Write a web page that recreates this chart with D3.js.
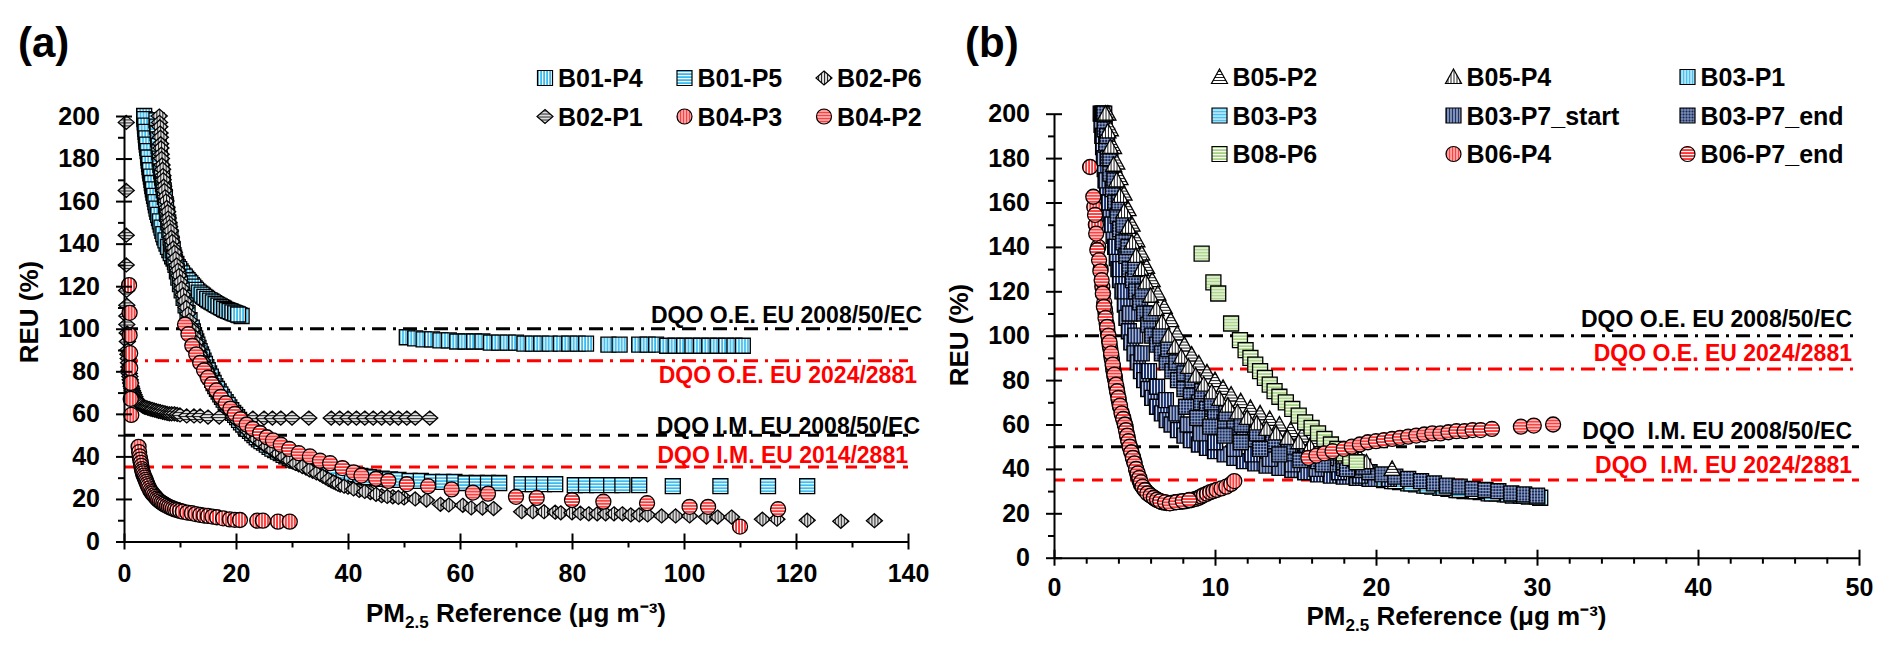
<!DOCTYPE html>
<html>
<head>
<meta charset="utf-8">
<script src="https://cdn.jsdelivr.net/npm/d3@7"></script>
<style>
body { margin: 0; background: #fff; }
text { font-family: Arial, "Liberation Sans", sans-serif; font-weight: bold; }
</style>
</head>
<body>
<svg id="chart" width="1892" height="649"></svg>
<script>
// ---- panel (a) data: [PM2.5 reference, REU %] ----
var a_B01_P4 = [[3.6,200],[3.7,197],[3.8,194],[3.9,191],[4.0,188],[4.15,185],[4.3,182],[4.4,179],[4.55,176],[4.7,173],[4.9,170],[5.05,167],[5.25,164],[5.5,161],[5.7,158],[5.95,155],[6.25,152],[6.55,149],[6.85,146],[7.2,143],[7.6,140],[8.1,137],[8.6,134],[9.1,131.5],[9.6,129],[10.1,127],[10.6,125],[11.1,123.5],[11.6,122],[12.1,120.5],[12.6,119],[13.1,117.5],[13.6,116.5],[14.1,115.5],[14.6,114.5],[15.1,113.5],[15.6,112.8],[16.1,112],[16.6,111.2],[17.1,110.5],[17.6,109.8],[18.1,109],[18.6,108.5],[19.1,108],[19.6,107.4],[20.1,107],[20.6,106.4],[21.0,106],
  [3.65,198.5],[3.75,195.5],[3.85,192.5],[3.95,189.5],[4.07,186.5],[4.22,183.5],[4.35,180.5],[4.48,177.5],[4.62,174.5],[4.8,171.5],[4.97,168.5],[5.15,165.5],[5.37,162.5],[5.6,159.5],[5.82,156.5],[6.1,153.5],[6.4,150.5],[6.7,147.5],[7.02,144.5],[7.4,141.5],[7.85,138.5],[8.35,135.5],[8.85,133],[9.35,130.5],[9.85,128],[10.35,126],[10.85,124.5],[11.35,122.8],[11.85,121.3],[12.35,119.8],[12.85,118.3],[13.35,117],[13.85,116],[14.35,115],[14.85,114],[15.35,113.2],[15.85,112.4],[16.35,111.6],[16.85,110.9],[17.35,110.2],[17.85,109.4],[18.35,108.8],[18.85,108.3],[19.35,107.7],[19.85,107.2],[20.35,106.7],
  [50.5,96],[52,95.5],[53.5,95],[55,95],[56.5,94.5],[58,94.5],[59.5,94],[61,94],[62.5,94],[64,94],[65.5,93.5],[67,93.5],[68.5,93.5],[70,93.5],[71.5,93],[73,93],[74.5,93],[76,93],[78,93],[79.5,93],[81,93],[82.5,93],[86.5,92.5],[88.5,92.5],[92,92.5],[93.5,92.5],[95,92.5],[97,92],[98.5,92],[100,92],[101.5,92],[103,92],[104.5,92],[106,92],[107.5,92],[109,92],[110.5,92]];
var a_B01_P5 = [[5.8,198],[5.9,195],[6.0,192],[6.1,189],[6.2,186],[6.3,183],[6.4,180],[6.5,177],[6.65,174],[6.8,171],[6.95,168],[7.1,165],[7.3,162],[7.5,158],[7.7,154],[7.9,150],[8.1,146.5],[8.3,143],[8.5,140],[8.7,137],[8.95,133.5],[9.2,130],[9.45,127],[9.7,124],[10.0,121],[10.3,118],[10.65,114.5],[11.0,111],[11.35,107.5],[11.7,104],[12.1,100.5],[12.5,97],[12.9,94],[13.3,91],[13.75,88],[14.2,85],[14.7,82],[15.2,79],[15.75,76],[16.3,73],[16.9,70.5],[17.5,68],[18.15,65.5],[18.8,63],[19.5,60.5],[20.2,58.5],[20.9,56],[21.7,54],[22.5,52],[23.3,50],[24.1,48],[25,46.5],[26,44.5],[27,43],[28,41.5],[29,40],[30.2,38.5],[31.5,37.5],[32.7,36.5],[34,35.5],[35.5,34.5],[37,33.5],[38.5,32.7],[40,32],[41.5,31.2],[43,30.5],[44.5,30],[46,29.5],[47.5,29.2],[49,29],[51,28.5],[53,28.5],[55,28],[57,28],[59,28],[61,27.5],[63,27.5],[65,27.5],[67,27.5],[71,27],[73,27],[75,27],[77,27],[80.5,26.5],[82.5,26.5],[84.5,26.5],[87,26.5],[89,26.5],[92,26.5],[98,26],[106.5,26],[115,26],[122,26],
  [12.3,98.7],[12.7,95.5],[13.1,92.5],[13.5,89.5],[13.95,86.5],[14.45,83.5],[14.95,80.5],[15.5,77.5],[16,74.5],[16.6,71.7],[17.2,69.2],[17.8,66.7],[18.5,64.2],[19.15,61.7],[19.85,59.5],[20.55,57.2],[21.3,55],[22.1,53],[22.9,51],[23.7,49],[24.55,47.2],[25.5,45.5],[26.5,43.7],[27.5,42.2],[28.5,40.7],[29.6,39.2],[30.8,38],[32.1,37],[33.3,36],[34.7,35],[36.2,34],[37.7,33.1],[39.2,32.3],[40.7,31.6],[42.2,30.8],[43.7,30.2]];
var a_B02_P6 = [[6.3,200],[6.35,197],[6.4,195],[6.45,192],[6.5,190],[6.55,187],[6.6,185],[6.65,182],[6.7,180],[6.8,177],[6.9,175],[6.95,172],[7.0,170],[7.1,167],[7.2,165],[7.35,162],[7.5,160],[7.65,157],[7.8,155],[7.9,152],[8.0,150],[8.15,148],[8.3,146],[8.45,143],[8.6,141],[8.8,138],[9.0,136],[9.2,133],[9.4,130],[9.6,127.5],[9.8,125],[10.05,122],[10.3,119],[10.55,116],[10.8,113],[11.1,110],[11.4,107],[11.7,104],[12,101],[12.35,98],[12.7,95],[13.05,92],[13.4,89],[13.8,86.5],[14.2,84],[14.6,81.5],[15,79],[15.5,76.5],[16,74],[16.5,71.5],[17,69],[17.6,66.5],[18.2,64],[18.8,62],[19.5,60],[20.2,57.5],[21,55],[21.7,53],[22.5,51],[23.2,49],[24,47.5],[25,45.5],[26,44],[27,42],[28,40.5],[29,39],[30,37.5],[31.2,36],[32.5,34.5],[33.7,33],[35,31.5],[36,30],[37,28.5],[37.8,27.5],[38.6,26.5],[40,25.5],[42,24],[44,23],[46,21.5],[48,21],[50,20.5],[52,20],[54,19.5],[56.5,17.5],[58,17.2],[60.5,17],[62,15.8],[64,15.7],[66,15.5],[71,14],[73,14],[75,14],[77,13.8],[78,13.5],[80,13.5],[81.5,13.3],[83,13],[84.5,13],[86,13],[87.5,13],[89,13],[90.5,12.5],[92,12.5],[93.5,12.5],[96,12],[98.5,12],[101,12],[104,11.5],[106,11.5],[108.5,11.5],[114,10.5],[116.6,10.5],[122,10],[128,9.5],[134,9.8],
  [12.2,99.5],[12.55,96.5],[12.9,93.5],[13.25,90.5],[13.6,87.7],[14,85.2],[14.4,82.7],[14.8,80.2],[15.25,77.7],[15.75,75.2],[16.25,72.7],[16.75,70.2],[17.3,67.7],[17.9,65.2],[18.5,63],[19.15,61],[19.85,58.7],[20.6,56.2],[21.35,54],[22.1,52],[22.85,50],[23.6,48.2],[24.5,46.5],[25.5,44.7],[26.5,43],[27.5,41.2],[28.5,39.7],[29.5,38.2],[30.6,36.7],[31.85,35.2],[33.1,33.7],[34.35,32.2],[35.5,30.7],[36.5,29.2],[37.4,28],[38.2,27],[39.3,26],[41,24.7],[43,23.5],[45,22.2],[47,21.2],[49,20.7]];
var a_B02_P1 = [[0.4,197],[0.4,165],[0.4,144],[0.4,130],[0.45,118],[0.5,111],[0.5,106],[0.5,102],[0.55,98],[0.6,94],[0.65,90],[0.7,88],[0.75,86],[0.8,84],[0.85,82],[0.9,80.5],[0.95,79],[1.05,77.5],[1.1,76],[1.2,74.5],[1.3,73],[1.4,72],[1.5,71],[1.65,70],[1.8,69],[1.95,68],[2.1,67],[2.3,66.2],[2.5,65.5],[2.7,65],[2.9,64.5],[3.15,64],[3.4,63.5],[3.65,63.2],[3.9,63],[4.2,62.7],[4.5,62.5],[4.8,62.2],[5.1,62],[5.45,61.7],[5.8,61.5],[6.15,61.2],[6.5,61],[6.9,60.7],[7.3,60.5],[7.7,60.2],[8.1,60],[8.5,60],[9,60],[9.5,59.7],[10,59.5],[11.2,59],[12.5,59],[13.6,59],[15,58.5],[17,58.5],[19.5,58.5],[21,58],[23,58],[25,58],[26.5,58],[28,58],[30,58],[33,58],[37,58],[38.5,58],[40,58],[41.5,58],[43,58],[44.5,58],[46,58],[47.5,58],[49,58],[50.5,58],[52,58],[54.6,58]];
var a_B04_P3 = [[0.9,120.5],[1.0,107.5],[1.0,97],[1.1,88.5],[1.1,81.5],[1.2,74.5],[1.2,67],[1.3,59.5],[2.6,44.5],
  [2.7,42],[2.8,40],[2.9,38.5],[3.0,37],[3.1,35.5],[3.2,34],[3.3,33],[3.4,32],[3.55,31],[3.7,30],[3.85,29],[4.0,28],[4.15,27],[4.3,26],[4.5,25],[4.7,24],[4.9,23.2],[5.1,22.5],[5.35,21.7],[5.6,21],[5.85,20.2],[6.1,19.5],[6.4,18.9],[6.7,18.3],[7.0,17.8],[7.3,17.3],[7.65,16.8],[8.0,16.3],[8.35,15.9],[8.7,15.5],[9.1,15.1],[9.5,14.8],[10,14.4],[10.5,14],[11.3,13.6],[12.1,13.3],[12.8,12.9],[13.6,12.5],[14.3,12.2],[15,12],[15.8,11.7],[16.6,11.4],[17.7,10.9],[18.9,10.4],[19.8,10.2],[20.7,10.1],[23.8,9.8],[24.8,9.8],[27.5,9.3],[29.6,9.3],[110,7]];
var a_B04_P2 = [[10.9,102],[11.5,97.5],[12.2,92],[12.9,88],[13.6,84],[14.3,80.5],[15,77],[15.7,74],[16.5,71],[17.3,68],[18.2,65],[19,62.5],[19.8,60],[20.8,57.5],[21.9,55],[23,53],[24.3,51],[25.5,49],[26.6,47.5],[28,45.5],[29.5,43.5],[31.2,41.5],[33.2,40],[35,38],[36.8,36.8],[39,34.5],[41,32.5],[42.4,31],[45,29.5],[47.2,28.5],[50.5,27],[54.3,26],[58.5,24.5],[62.3,23],[65,22.5],[70,21],[73.7,20.5],[80,19.5],[85.6,18.7],[93.4,18],[101,16.3],[104.3,16.3],[116.8,15.2]];

// ---- panel (b) data ----
var b_B05_P2 = [[3.35,200],[3.5,193],[3.7,185],[3.9,178],[4.1,171],[4.35,164],[4.6,157],[4.85,150],[5.15,143],[5.45,137],[5.75,131],[6.1,125],[6.45,119],[6.85,113],[7.25,107],[7.65,101],[8.1,96],[8.55,91.5],[9.0,87.5],[9.5,83.5],[10.0,80],[10.5,76.5],[11.0,73.5],[11.6,70.5],[12.2,67.5],[12.8,65],[13.4,62.5],[14.0,60],[14.7,57.5],[15.4,55],[16.1,53],[16.8,51],[17.5,49],[18.2,47],[19.0,45],[21.0,40]];
var b_B05_P4 = [[3.2,200],[3.35,192],[3.5,185],[3.7,177],[3.9,170],[4.1,163],[4.35,156],[4.6,149],[4.85,142],[5.1,136],[5.4,130],[5.7,124],[6.0,118],[6.35,112],[6.7,106],[7.1,100],[7.5,95],[7.9,90.5],[8.35,86],[8.8,82],[9.3,78],[9.8,74.5],[10.3,71.5],[10.8,68.5],[11.4,65.5],[12.0,63],[12.6,60.5],[13.2,58],[13.8,56],[14.5,54],[15.2,52],[15.9,50],[16.6,48.5],[17.3,47],[18.0,45.5],[18.7,44],[19.4,43]];
var b_B03_P1 = [[19.5,36],[20,35.5],[20.5,35],[21,34.5],[21.5,34],[22,33.5],[22.5,33],[23,32.5],[23.5,32],[24,31.5],[24.5,31],[25,30.5],[25.5,30],[26,30],[26.5,29.5],[27,29],[27.5,29],[28,28.5],[28.5,28],[29,28],[29.5,27.5],[30.2,27]];
var b_B03_P3 = [[20.2,35.5],[21.2,34.5],[22.2,33.5],[23.2,32.5],[24.2,31.5],[25.2,30.5],[26.2,30],[27.2,29],[28.2,28.5],[29.2,28],[30,27.5]];
var b_B03_P7_start = [[2.9,200],[2.95,195],[3.0,190],[3.05,185],[3.1,180],[3.15,175],[3.2,170],[3.3,165],[3.4,160],[3.5,155],[3.6,150],[3.7,145],[3.8,140],[3.9,135],[4.0,130],[4.1,125],[4.25,120],[4.4,114],[4.5,108],[4.65,102],[4.8,97],[5.0,92],[5.2,88],[5.4,84],[5.6,80],[5.85,76],[6.1,72],[6.4,68],[6.7,65],[7.0,62],[7.3,60],[7.7,57.5],[8.1,55],[8.5,53],[9.0,51],[9.5,49.5],[10.0,48],[10.6,46.5],[11.2,45],[11.8,43.5],[12.5,42.5],[13.2,41.5],[14.0,40.5],[14.8,39.5],[15.6,38.5],[16.4,37.5],[17.2,37],[18.0,36.5],[18.8,36],[19.6,35.5],
  [2.97,200],[3.05,190],[3.12,180],[3.25,170],[3.42,160],[3.6,150],[3.85,140],[4.1,130],[4.4,120],[4.7,110],[5.05,100],[5.45,92],[5.9,84],[6.4,77],[6.95,71],[7.6,65],[8.3,60],[9.1,56],[10,52],[11.2,49],[12.3,46.5],[13.4,44.5],[14.8,42],[16.3,40],[17.7,38.5],[19,37],[20.8,35.5]];
var b_B03_P7_end = [[3.05,200],[3.15,193],[3.25,186],[3.35,180],[3.5,173],[3.65,166],[3.8,160],[3.95,154],[4.1,148],[4.3,142],[4.5,136],[4.7,130],[4.9,125],[5.1,120],[5.35,115],[5.6,110],[5.85,105],[6.1,100],[6.4,96],[6.7,92],[7.0,88],[7.35,84],[7.7,80],[8.1,76],[8.5,73],[9.0,70],[9.5,67],[10.0,64],[10.6,61],[11.2,58.5],[11.8,56],[12.5,53.5],[13.2,51],[14.0,49],[14.8,47],[15.6,45],[16.4,43.5],[17.2,42],[18.0,40.5],[18.8,39.5],[19.6,38.5],[20.4,37.5],[21.2,36.5],[22.0,35.5],[22.8,34.5],[23.6,33.5],[24.4,32.5],[25.2,32],[26.0,31],[26.8,30.5],[27.6,30],[28.4,29],[29.2,28.5],[30.0,28],
  [3.12,200],[3.3,190],[3.5,180],[3.75,170],[4.05,160],[4.32,150],[4.62,140],[5.05,130],[5.5,120],[6.0,110],[6.6,100],[7.1,94],[7.6,88],[8.1,83],[8.6,80],[9.2,75],[9.8,70],[10.7,65],[11.65,60],[12.6,56],[13.6,52.5],[14.55,50],[15.7,47.5],[16.9,45],[18,43],[19.2,41],
  [8.2,68],[8.9,63],[9.7,59],[10.6,55],[11.6,52],[12.8,49],[14,46.5],[15.3,44],[16.7,42],[18.2,40]];
var b_B08_P6 = [[9.17,137],[9.9,124],[10.2,119],[11.0,105.5],[11.55,98],[11.9,93.5],[12.2,90],[12.5,87],[12.8,84],[13.1,81],[13.4,78],[13.7,75],[14.0,72.5],[14.4,70],[14.8,67],[15.2,64],[15.6,61],[16.0,58.5],[16.4,56],[16.8,53.5],[17.2,51],[17.6,49],[18.0,47],[18.4,45],[18.8,43]];
var b_B06_P4 = [[2.24,176],[2.5,158],[2.6,150],[2.75,140],[2.9,130],[3.0,122],[3.05,119],[3.12,115],[3.2,110],[3.27,105.5],[3.35,101],[3.42,97.5],[3.5,94],[3.55,91.5],[3.6,89],[3.65,86.5],[3.7,84],[3.75,82],[3.8,80],[3.87,77],[3.95,74],[4.02,71],[4.1,68],[4.2,65.5],[4.3,63],[4.37,61],[4.45,59],[4.52,56],[4.6,53],[4.7,50.5],[4.8,48],[4.9,45.5],[5.0,43],[5.1,40],[5.2,37],[5.3,35],[5.4,33],[5.55,31.5],[5.7,30],[5.85,29],[6.0,28],[6.2,27],[6.4,26],[6.55,25.5],[6.7,25],[6.85,24.8],[7.0,24.6],[7.2,24.6],[7.4,24.8],[7.6,25],[7.8,25.2],[8.0,25.3],[8.2,25.5],[8.4,25.8],[8.55,26],[8.8,26.5],[9.0,27],[9.15,27.6],[9.3,28.2],[9.5,28.8],[9.7,29.5],[9.9,30],[10.1,30.5],[10.4,31.2],[10.7,32],[11.0,33.2],[11.2,34.5],
  [3.16,112],[3.31,103],[3.46,95.5],[3.58,90],[3.68,85],[3.78,81],[3.91,75.5],[4.06,69.5],[4.25,64],[4.41,60],[4.56,54.5],[4.75,49],[4.95,44],[5.15,38.5],[5.35,34],[5.62,30.7],[5.92,28.5],[6.3,26.5]];
var b_B06_P7_end = [[2.44,162.6],[2.55,154.4],[2.62,146],[2.69,138.6],[2.8,134],[2.88,129],[2.96,125],[3.03,119],[3.1,113],[3.2,108],[3.3,104],[3.38,100],[3.45,97],[3.55,92],[3.65,87],[3.75,82.5],[3.85,78],[3.92,75],[4.0,72],[4.1,68.5],[4.2,65],[4.3,62.5],[4.4,60],[4.47,57.5],[4.55,55],[4.62,52.5],[4.7,50],[4.8,47.5],[4.9,45],[5.0,42.5],[5.1,40],[5.2,38],[5.3,36],[5.4,34],[5.5,32],[5.65,30.5],[5.8,29],[6.0,28],[6.2,27],[6.4,26.2],[6.6,25.5],[6.9,25],[7.2,24.5],[7.6,25],[8.0,25.5],[8.4,26],
  [15.8,45],[16.3,46],[16.8,47],[17.3,48],[18,49],[18.5,50],[19,51],[19.5,52],[20,52.5],[20.5,53],[21,53.5],[21.5,54],[22,54.5],[22.5,55],[23,55.5],[23.5,56],[24,56],[24.5,56.5],[25,57],[25.5,57],[26,57.5],[26.5,57.5],[27.2,58],[29,59],[29.8,59.5],[31,60]];

// ---- ticks and limits ----
var a_xTicks = [0, 20, 40, 60, 80, 100, 120, 140];
var b_xTicks = [0, 10, 20, 30, 40, 50];
var yTicks = [0, 20, 40, 60, 80, 100, 120, 140, 160, 180, 200];
var dqoValues = [100, 85, 50, 35];
var a_dqoLabels = ['DQO O.E. EU 2008/50/EC', 'DQO O.E. EU 2024/2881', 'DQO I.M. EU 2008/50/EC', 'DQO I.M. EU 2014/2881'];
var b_dqoLabels = ['DQO O.E. EU 2008/50/EC', 'DQO O.E. EU 2024/2881', 'DQO  I.M. EU 2008/50/EC', 'DQO  I.M. EU 2024/2881'];

var svg = d3.select('#chart');
var defs = svg.append('defs');

function stripes(id, bg, fg, dir, w) {
  var p = defs.append('pattern').attr('id', id)
    .attr('patternUnits', 'userSpaceOnUse').attr('width', 3).attr('height', 3);
  p.append('rect').attr('width', 3).attr('height', 3).attr('fill', bg);
  if (dir == 'v' || dir == 'g') p.append('rect').attr('width', w).attr('height', 3).attr('fill', fg);
  if (dir == 'h' || dir == 'g') p.append('rect').attr('width', 3).attr('height', w).attr('fill', fg);
}
stripes('blueV', '#38BBEE', '#fff', 'v', 1.2);
stripes('blueH', '#38BBEE', '#fff', 'h', 1.2);
stripes('redV', '#FF3535', '#fff', 'v', 1.1);
stripes('redH', '#FF3535', '#fff', 'h', 1.1);
stripes('grayV', '#e4e4e4', '#2a2a2a', 'v', 1.1);
stripes('grayH', '#e4e4e4', '#2a2a2a', 'h', 1.1);
stripes('triV', '#ffffff', '#222', 'v', 1);
stripes('triH', '#ffffff', '#222', 'h', 1);
stripes('navyV', '#1B3370', '#fff', 'v', 0.9);
stripes('navyG', '#152B5E', '#c9d4ee', 'g', 0.6);
stripes('greenH', '#A5D27E', '#fff', 'h', 1.2);

var shapes = {
  square: 'M-7.5,-7.5H7.5V7.5H-7.5Z',
  circle: 'M-7.5,0A7.5,7.5 0 1,0 7.5,0A7.5,7.5 0 1,0 -7.5,0Z',
  diamond: 'M0,-7L8,0L0,7L-8,0Z',
  triangle: 'M0,-8L8,6.5L-8,6.5Z'
};

var aSeries = [
  {name: 'B01-P4', data: a_B01_P4, shape: 'square', fill: 'blueV'},
  {name: 'B01-P5', data: a_B01_P5, shape: 'square', fill: 'blueH'},
  {name: 'B02-P6', data: a_B02_P6, shape: 'diamond', fill: 'grayV'},
  {name: 'B02-P1', data: a_B02_P1, shape: 'diamond', fill: 'grayH'},
  {name: 'B04-P3', data: a_B04_P3, shape: 'circle', fill: 'redV'},
  {name: 'B04-P2', data: a_B04_P2, shape: 'circle', fill: 'redH'}
];
var bSeries = [
  {name: 'B05-P2', data: b_B05_P2, shape: 'triangle', fill: 'triH', z: 4},
  {name: 'B05-P4', data: b_B05_P4, shape: 'triangle', fill: 'triV', z: 5},
  {name: 'B03-P1', data: b_B03_P1, shape: 'square', fill: 'blueV', z: 0},
  {name: 'B03-P3', data: b_B03_P3, shape: 'square', fill: 'blueH', z: 1},
  {name: 'B03-P7_start', data: b_B03_P7_start, shape: 'square', fill: 'navyV', z: 2},
  {name: 'B03-P7_end', data: b_B03_P7_end, shape: 'square', fill: 'navyG', z: 3},
  {name: 'B08-P6', data: b_B08_P6, shape: 'square', fill: 'greenH', z: 6},
  {name: 'B06-P4', data: b_B06_P4, shape: 'circle', fill: 'redV', z: 7},
  {name: 'B06-P7_end', data: b_B06_P7_end, shape: 'circle', fill: 'redH', z: 8}
];

function drawPanel(cfg) {
  var x = cfg.x, y = cfg.y;
  var g = svg.append('g');

  // DQO reference lines
  var styles = [
    {color: '#000', dash: '14,7,3,7'},
    {color: '#FF0000', dash: '14,7,3,7'},
    {color: '#000', dash: '11,8'},
    {color: '#FF0000', dash: '11,8'}
  ];
  dqoValues.forEach(function(v, i) {
    g.append('line')
      .attr('x1', x(0)).attr('x2', x(x.domain()[1]))
      .attr('y1', y(v)).attr('y2', y(v))
      .attr('stroke', styles[i].color).attr('stroke-width', 3)
      .attr('stroke-dasharray', styles[i].dash);
  });

  // markers
  var order = cfg.series.slice();
  if (order[0].z !== undefined) order.sort(function(p, q) { return p.z - q.z; });
  order.forEach(function(s) {
    g.append('g').selectAll('path').data(s.data).enter().append('path')
      .attr('transform', function(d) { return 'translate(' + x(d[0]) + ',' + y(d[1]) + ')'; })
      .attr('d', shapes[s.shape])
      .attr('fill', 'url(#' + s.fill + ')')
      .attr('stroke', '#000').attr('stroke-width', 1.3);
  });

  // DQO labels
  cfg.labels.forEach(function(t, i) {
    g.append('text')
      .attr('x', cfg.labelX[i]).attr('y', y(dqoValues[i]) + cfg.labelDy[i])
      .attr('text-anchor', 'end').attr('font-size', 23)
      .style('white-space', 'pre')
      .attr('fill', i % 2 ? '#FF0000' : '#000')
      .text(t);
  });

  // axes
  var xa = g.append('g').attr('transform', 'translate(0,' + y(0) + ')')
    .call(d3.axisBottom(x).tickValues(cfg.xTicks).tickSize(8).tickSizeOuter(0).tickPadding(cfg.xPad));
  xa.selectAll('.tick line').attr('y1', -8);
  var xm = g.append('g').attr('transform', 'translate(0,' + y(0) + ')')
    .call(d3.axisBottom(x).tickValues(cfg.xMinor).tickSize(6).tickSizeOuter(0).tickFormat(''));
  xm.select('.domain').remove();

  var ya = g.append('g').attr('transform', 'translate(' + x(0) + ',0)')
    .call(d3.axisLeft(y).tickValues(yTicks).tickSize(8).tickSizeOuter(0).tickPadding(16));
  ya.selectAll('.tick line').attr('x1', 8);
  var ym = g.append('g').attr('transform', 'translate(' + x(0) + ',0)')
    .call(d3.axisLeft(y).tickValues(d3.range(10, 200, 20)).tickSize(6).tickSizeOuter(0).tickFormat(''));
  ym.select('.domain').remove();

  [xa, xm, ya, ym].forEach(function(a) {
    a.selectAll('path, line').attr('stroke', '#000').attr('stroke-width', 2);
    a.selectAll('text').attr('fill', '#000').attr('font-size', 25)
      .attr('font-family', 'Arial, "Liberation Sans", sans-serif').attr('font-weight', 'bold');
  });

  // axis titles
  svg.append('text')
    .attr('transform', 'translate(' + (x(0) - 86) + ',' + cfg.yTitleY + ') rotate(-90)')
    .attr('text-anchor', 'middle').attr('font-size', 26).text('REU (%)');

  var xt = svg.append('text')
    .attr('x', (x.range()[0] + x.range()[1]) / 2).attr('y', cfg.xTitleY)
    .attr('text-anchor', 'middle').attr('font-size', 26);
  xt.append('tspan').text('PM');
  xt.append('tspan').attr('font-size', 17).attr('dy', 6).text('2.5');
  xt.append('tspan').attr('dy', -6).text(' Reference (\u03bcg m\u207b\u00b3)');

  // panel letter
  svg.append('text').attr('x', cfg.letterX).attr('y', 57)
    .attr('font-size', 42).text(cfg.letter);

  // legend
  cfg.series.forEach(function(s, i) {
    var col = i % 3, row = Math.floor(i / 3);
    var cx = cfg.legX + col * cfg.legDx, cy = cfg.legY + row * 38.5;
    var lg = svg.append('g');
    lg.append('path')
      .attr('transform', 'translate(' + cx + ',' + cy + ')')
      .attr('d', shapes[s.shape])
      .attr('fill', 'url(#' + s.fill + ')')
      .attr('stroke', '#000').attr('stroke-width', 1.2);
    lg.append('text').attr('x', cx + 13).attr('y', cy + 9)
      .attr('font-size', 25).text(s.name);
  });
}

drawPanel({
  x: d3.scaleLinear().domain([0, 140]).range([124, 908]),
  y: d3.scaleLinear().domain([0, 200]).range([541.5, 116]),
  series: aSeries,
  xTicks: a_xTicks,
  xMinor: d3.range(10, 140, 20),
  xPad: 15, xTitleY: 622,
  labels: a_dqoLabels,
  labelX: [922, 917, 920, 908],
  labelDy: [-6, 22, -1, -4],
  yTitleY: 312,
  letter: '(a)', letterX: 18,
  legX: 545, legDx: 139.5, legY: 78
});

drawPanel({
  x: d3.scaleLinear().domain([0, 50]).range([1054, 1859]),
  y: d3.scaleLinear().domain([0, 200]).range([557.7, 113.7]),
  series: bSeries,
  xTicks: b_xTicks,
  xMinor: d3.range(2, 50, 2).filter(function(v) { return v % 10 != 0; }),
  xPad: 13, xTitleY: 625,
  labels: b_dqoLabels,
  labelX: [1852, 1852, 1852, 1852],
  labelDy: [-9, -8, -8, -7],
  yTitleY: 335,
  letter: '(b)', letterX: 965,
  legX: 1219.5, legDx: 234, legY: 77
});
</script>
</body>
</html>
